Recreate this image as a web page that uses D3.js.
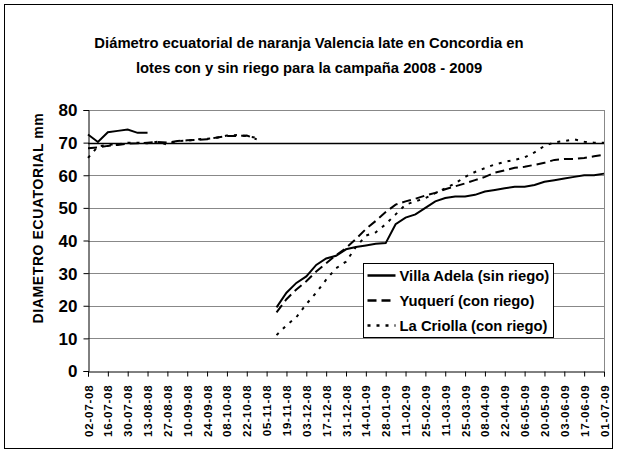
<!DOCTYPE html>
<html>
<head>
<meta charset="utf-8">
<script src="https://cdn.jsdelivr.net/npm/d3@7"></script>
<style>
  body { margin: 0; background: #fff; }
  text { font-family: "Liberation Sans", Arial, sans-serif; font-weight: bold; fill: #000; }
</style>
</head>
<body>
<div id="chart"></div>
<script>
// weekly measurements (dd-mm-yy)
var dates = [
  "02-07-08", "09-07-08", "16-07-08", "23-07-08", "30-07-08", "06-08-08", "13-08-08",
  "20-08-08", "27-08-08", "03-09-08", "10-09-08", "17-09-08", "24-09-08", "01-10-08",
  "08-10-08", "15-10-08", "22-10-08", "29-10-08", "05-11-08", "12-11-08", "19-11-08",
  "26-11-08", "03-12-08", "10-12-08", "17-12-08", "24-12-08", "31-12-08", "07-01-09",
  "14-01-09", "21-01-09", "28-01-09", "04-02-09", "11-02-09", "18-02-09", "25-02-09",
  "04-03-09", "11-03-09", "18-03-09", "25-03-09", "01-04-09", "08-04-09", "15-04-09",
  "22-04-09", "29-04-09", "06-05-09", "13-05-09", "20-05-09", "27-05-09", "03-06-09",
  "10-06-09", "17-06-09", "24-06-09", "01-07-09"
];

var villaAdela = [
  72.5, 70.2, 73.2, 73.6, 74, 73, 73,
  null, null, null, null, null, null, null, null, null, null, null, null,
  19.5, 24, 27, 29, 32.5, 34.5, 35.3, 37.3, 38, 38.5, 39, 39.2, 45, 47, 48, 50,
  52, 53, 53.5, 53.5, 54, 55, 55.5, 56, 56.5, 56.5, 57, 58, 58.5, 59, 59.5, 60, 60, 60.5
];

var yuqueri = [
  68.3, 68.5, 69, 69.3, 69.7, 69.8, 70, 70.2, 70, 70.5, 70.7, 70.8, 71, 71.6, 72, 72, 72.2, 71,
  null,
  18, 22, 25, 27.5, 30.5, 33, 35.5, 37.7, 40.5, 43.5, 46, 48.7, 51, 52, 52.8, 53.8,
  54.6, 55.7, 56.6, 57.5, 58.5, 59.5, 60.8, 61.5, 62.3, 62.6, 63.2, 63.8, 64.7, 65, 65, 65.3, 65.8, 66.3
];

var laCriolla = [
  65.3, 68.8, 69.3, 69.5, 70, 70, 69.8, 70.3, 69.4, 70.5, 70.6, 71, 71.2, 71.5, 72.2, 72.3, 72, 71.5,
  null,
  11, 14, 16.5, 20.5, 24, 28, 31.5, 33.5, 38, 41.5, 42.5, 45, 48, 51, 52, 53,
  54.5, 56, 57.5, 59.5, 61, 62.2, 63.3, 64.1, 64.7, 65.5, 67, 69, 70.1, 70.5, 71, 70.3, 70, 70
];

var xTickLabels = [
  "02-07-08", "16-07-08", "30-07-08", "13-08-08", "27-08-08", "10-09-08", "24-09-08",
  "08-10-08", "22-10-08", "05-11-08", "19-11-08", "03-12-08", "17-12-08", "31-12-08",
  "14-01-09", "28-01-09", "11-02-09", "25-02-09", "11-03-09", "25-03-09", "08-04-09",
  "22-04-09", "06-05-09", "20-05-09", "03-06-09", "17-06-09", "01-07-09"
];

var yTicks = [0, 10, 20, 30, 40, 50, 60, 70, 80];

var seriesNames = ["Villa Adela (sin riego)", "Yuquerí (con riego)", "La Criolla (con riego)"];

var titleLines = [
  "Diámetro ecuatorial de naranja Valencia late en Concordia en",
  "lotes con y sin riego para la campaña 2008 - 2009"
];

var width = 617
  , height = 453
  , margin = {top: 110, right: 13, bottom: 82, left: 88}
  , parse = d3.timeParse("%d-%m-%y")
  , fmt = d3.timeFormat("%d-%m-%y")
  , dashes = ["none", "9,5", "3,6"]
  ;

var svg = d3.select("#chart").append("svg")
  .attr("width", width)
  .attr("height", height);

// chart area border
svg.append("rect")
  .attr("x", 4.5).attr("y", 4.5)
  .attr("width", width - 9).attr("height", height - 9)
  .attr("fill", "none").attr("stroke", "#000").attr("stroke-width", 1);

var x = d3.scaleTime()
  .domain([parse(dates[0]), parse(dates[dates.length - 1])])
  .range([margin.left, width - margin.right]);

var y = d3.scaleLinear()
  .domain([0, 80])
  .range([height - margin.bottom, margin.top]);

// gridlines
svg.append("g").selectAll("line").data(yTicks.slice(1))
  .enter().append("line")
  .attr("x1", margin.left).attr("x2", width - margin.right)
  .attr("y1", function (d) { return Math.round(y(d)) + 0.5; })
  .attr("y2", function (d) { return Math.round(y(d)) + 0.5; })
  .attr("stroke", function (d) { return d === 70 ? "#000" : "#888"; })
  .attr("stroke-width", function (d) { return d === 70 ? 1.3 : 1; });

// plot right border
svg.append("line")
  .attr("x1", width - margin.right + 0.5).attr("x2", width - margin.right + 0.5)
  .attr("y1", margin.top).attr("y2", height - margin.bottom)
  .attr("stroke", "#888");

var yAxis = svg.append("g")
  .attr("transform", "translate(" + (margin.left + 0.5) + ",0)")
  .call(d3.axisLeft(y).tickValues(yTicks).tickSize(5).tickPadding(6));

yAxis.selectAll("text").style("font-size", "17px").attr("dy", "0.35em");

var xAxis = svg.append("g")
  .attr("transform", "translate(0," + (height - margin.bottom + 0.5) + ")")
  .call(d3.axisBottom(x)
    .tickValues(xTickLabels.map(parse))
    .tickSize(5)
    .tickFormat(function (d) { return fmt(d); }));

xAxis.selectAll("text")
  .style("font-size", "11.5px")
  .style("letter-spacing", "0.8px")
  .attr("text-anchor", "end")
  .attr("transform", "rotate(-90)")
  .attr("x", -13)
  .attr("y", 0)
  .attr("dy", "0.35em");

svg.selectAll(".domain, .tick line").attr("stroke", "#000");

// series
var allSeries = [villaAdela, yuqueri, laCriolla];

var line = d3.line()
  .defined(function (d) { return d !== null; })
  .x(function (d, i) { return x(parse(dates[i])); })
  .y(function (d) { return y(d); });

svg.append("g").selectAll("path").data(allSeries)
  .enter().append("path")
  .attr("d", line)
  .attr("fill", "none")
  .attr("stroke", "#000")
  .attr("stroke-width", 2)
  .attr("stroke-dasharray", function (d, i) { return dashes[i]; });

// title
svg.append("g").selectAll("text").data(titleLines)
  .enter().append("text")
  .attr("x", 309)
  .attr("y", function (d, i) { return 48 + i * 25; })
  .attr("text-anchor", "middle")
  .style("font-size", "14.8px")
  .text(function (d) { return d; });

// y label
svg.append("text")
  .attr("transform", "translate(43," + 218 + ") rotate(-90)")
  .attr("text-anchor", "middle")
  .style("font-size", "14px")
  .style("letter-spacing", "0.6px")
  .text("DIAMETRO ECUATORIAL mm");

// legend
var legend = svg.append("g").attr("transform", "translate(363.5,263.5)");

legend.append("rect")
  .attr("width", 190).attr("height", 74)
  .attr("fill", "#fff").attr("stroke", "#000");

var items = legend.selectAll(".item").data(seriesNames)
  .enter().append("g")
  .attr("transform", function (d, i) { return "translate(0," + (12 + i * 25) + ")"; });

items.append("line")
  .attr("x1", 4).attr("x2", 32)
  .attr("stroke", "#000").attr("stroke-width", 2.5)
  .attr("stroke-dasharray", function (d, i) { return dashes[i]; });

items.append("text")
  .attr("x", 36)
  .attr("dy", "0.35em")
  .style("font-size", "14.8px")
  .text(function (d) { return d; });
</script>
</body>
</html>
